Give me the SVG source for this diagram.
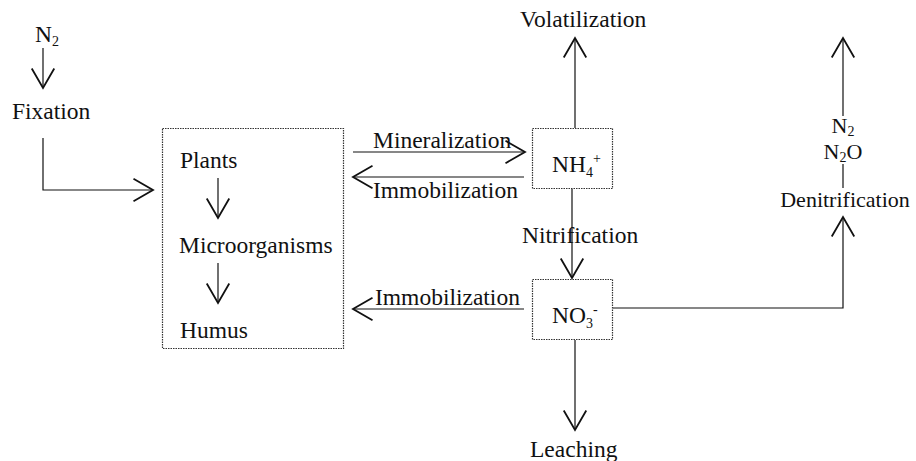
<svg xmlns="http://www.w3.org/2000/svg" width="916" height="461" viewBox="0 0 916 461">
<style>
text { font-family: "Liberation Serif", "Times New Roman", serif; font-size: 23.5px; fill: #111; }
.sub { font-size: 14px; }
.ln { fill: none; stroke: #111; stroke-width: 1.2; }
.box { fill: none; stroke: #333; stroke-width: 1.2; stroke-dasharray: 1.5 1; }
.small { font-size: 22px; }
</style>
<defs>
<marker id="ah" markerUnits="userSpaceOnUse" markerWidth="30" markerHeight="30" viewBox="-15 -10 20 20" refX="0" refY="0" orient="auto" overflow="visible">
<path d="M-13,-7.5 L0,0 L-13,7.5" fill="none" stroke="#111" stroke-width="1.2"/>
</marker>
</defs>
<rect width="916" height="461" fill="#fff"/>

<g id="connectors">
<line class="ln" x1="43" y1="48" x2="43" y2="88" marker-end="url(#ah)"/>
<polyline class="ln" points="43,138 43,190 153,190" marker-end="url(#ah)"/>
<line class="ln" x1="218" y1="178" x2="218" y2="218" marker-end="url(#ah)"/>
<line class="ln" x1="218" y1="263" x2="218" y2="303" marker-end="url(#ah)"/>
<line class="ln" x1="353" y1="152" x2="525" y2="152" marker-end="url(#ah)"/>
<line class="ln" x1="524" y1="177" x2="353" y2="177" marker-end="url(#ah)"/>
<line class="ln" x1="524" y1="309" x2="353" y2="309" marker-end="url(#ah)"/>
<line class="ln" x1="575" y1="128" x2="575" y2="38" marker-end="url(#ah)"/>
<line class="ln" x1="572" y1="189" x2="572" y2="278" marker-end="url(#ah)"/>
<line class="ln" x1="575" y1="340" x2="575" y2="430" marker-end="url(#ah)"/>
<polyline class="ln" points="613,308 843,308 843,217" marker-end="url(#ah)"/>
<line class="ln" x1="843" y1="188" x2="843" y2="164"/>
<line class="ln" x1="843" y1="116" x2="843" y2="38" marker-end="url(#ah)"/>
</g>

<g id="n2-source"><text x="35" y="42">N<tspan class="sub" dy="4">2</tspan></text></g>
<g id="fixation"><text x="12" y="119">Fixation</text></g>

<g id="organic-pool">
<rect class="box" x="162.5" y="128.5" width="181" height="220"/>
<text x="180" y="168">Plants</text>
<text x="179" y="253">Microorganisms</text>
<text x="180" y="338">Humus</text>
</g>

<g id="label-mineralization"><text x="373" y="148">Mineralization</text></g>
<g id="label-immobilization-1"><text x="373" y="198">Immobilization</text></g>
<g id="label-immobilization-2"><text x="375" y="305">Immobilization</text></g>

<g id="nh4">
<rect class="box" x="532.5" y="128.5" width="80" height="60"/>
<text x="552" y="172">NH<tspan class="sub" dy="5">4</tspan><tspan class="sub" dy="-14">+</tspan></text>
</g>

<g id="no3">
<rect class="box" x="532.5" y="279.5" width="80" height="60"/>
<text x="552" y="323">NO<tspan class="sub" dy="5">3</tspan><tspan class="sub" dy="-14">-</tspan></text>
</g>

<g id="label-nitrification"><text x="522" y="243">Nitrification</text></g>
<g id="volatilization"><text x="520" y="27">Volatilization</text></g>
<g id="leaching"><text x="530" y="457">Leaching</text></g>
<g id="denitrification"><text class="small" x="845" y="207" text-anchor="middle">Denitrification</text></g>
<g id="n2-n2o">
<text class="small" x="843" y="133" text-anchor="middle">N<tspan class="sub" dy="3">2</tspan></text>
<text class="small" x="843" y="159" text-anchor="middle">N<tspan class="sub" dy="3">2</tspan><tspan dy="-3">O</tspan></text>
</g>
</svg>
